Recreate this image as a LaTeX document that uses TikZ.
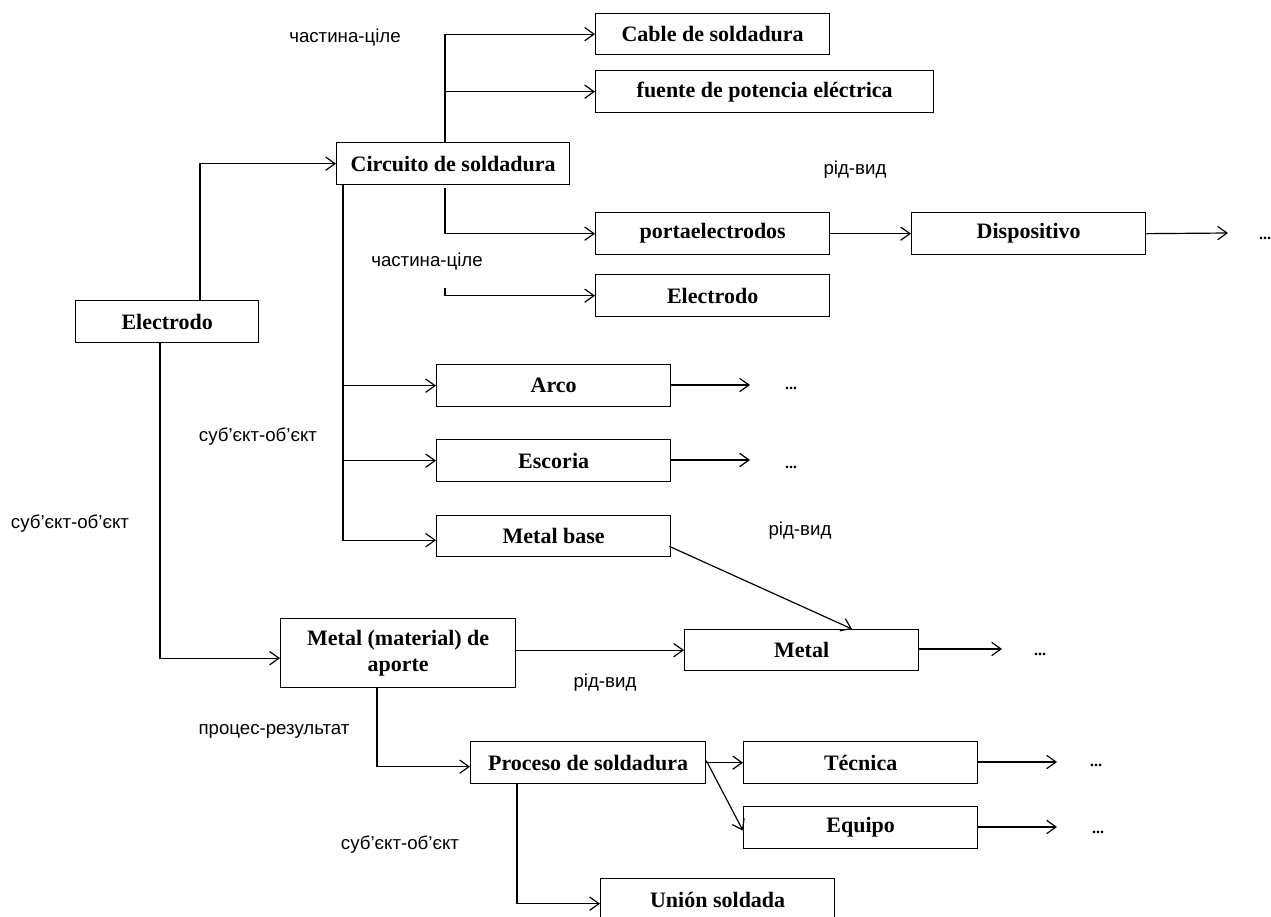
\documentclass[tikz,border=0pt]{standalone}
\usepackage{fontspec}
\setmainfont{Liberation Serif}
\newfontfamily\lblfont{Liberation Sans}
\usetikzlibrary{arrows.meta,calc}
\begin{document}
\begin{tikzpicture}[x=0.75pt,y=-0.75pt,
  box/.style 2 args={draw,line width=1pt,anchor=north west,inner sep=0pt,
    minimum width=#1*0.75pt,minimum height=#2*0.75pt,align=center,
    font=\fontsize{16.5}{20}\selectfont\bfseries},
  arr/.style={draw,line width=0.9pt,-{Straight Barb[length=7pt,width=10pt,line width=0.9pt]}},
  lbl/.style={font=\lblfont\fontsize{14}{16}\selectfont,inner sep=0pt},
  dots/.style={font=\fontsize{12}{13}\selectfont\bfseries,inner sep=0pt}]
\useasboundingbox (0,0) rectangle (1271,917);
% boxes
\node[box={234}{41}] (cable) at (595,13) {Cable de soldadura};
\node[box={338}{42}] (fuente) at (595,70) {fuente de potencia eléctrica};
\node[box={233}{42}] (circ) at (336,142) {Circuito de soldadura};
\node[box={234}{42}] (porta) at (595,212) {portaelectrodos};
\node[box={234}{42}] (disp) at (911,212) {Dispositivo};
\node[box={234}{42}] (elR) at (595,274) {Electrodo};
\node[box={183}{42}] (elL) at (75,300) {Electrodo};
\node[box={234}{42}] (arco) at (436,364) {Arco};
\node[box={234}{42}] (escoria) at (436,439) {Escoria};
\node[box={234}{41}] (mbase) at (436,515) {Metal base};
\node[box={235}{69}] (aporte) at (280,618) {Metal (material) de\\aporte};
\node[box={234}{41}] (metal) at (684,629) {Metal};
\node[box={235}{42}] (proceso) at (470,741) {Proceso de soldadura};
\node[box={234}{42}] (tecnica) at (743,741) {Técnica};
\node[box={234}{42}] (equipo) at (743,806) {Equipo};
\node[box={234}{42}] (union) at (600,878) {Unión soldada};
% free ends
\coordinate (ct) at ($(circ.north west)+(109,0)$);
\coordinate (cb) at ($(circ.south west)+(109,3)$);
\coordinate (tk) at (445,288);
\coordinate (cl) at ($(circ.south west)+(7,0)$);
\coordinate (d1) at (1228,233);
\coordinate (a1) at (750,385);
\coordinate (e1) at (750,460);
\coordinate (m1) at (1002,649);
\coordinate (t1) at (1057,762);
\coordinate (q1) at (1057,827);
% connectors
\draw[arr] ($(elL.north west)+(125,0)$) |- (circ.west);
\draw[arr] ($(elL.south west)+(85,0)$) |- ($(aporte.west)+(0,5)$);
\draw[arr] (ct) |- (cable.west);
\draw[arr] (ct) |- (fuente.west);
\draw[arr] (cb) |- (porta.west);
\draw[arr] (tk) |- (elR.west);
\draw[arr] (cl) |- (arco.west);
\draw[arr] (cl) |- (escoria.west);
\draw[arr] (cl) |- ($(mbase.west)+(0,4)$);
\draw[arr] (porta) -- (disp);
\draw[arr] (disp.east) -- (d1);
\draw[arr] (arco.east |- a1) -- (a1);
\draw[arr] (escoria.east |- e1) -- (e1);
\draw[arr] ($(mbase.south east)+(-2,-11)$) -- ($(metal.north west)+(168,0)$);
\draw[arr] (aporte.east |- metal.west) -- (metal.west);
\draw[arr] (metal.east |- m1) -- (m1);
\draw[arr] ($(aporte.south west)+(97,0)$) |- ($(proceso.west)+(0,4)$);
\draw[arr] (proceso.east |- tecnica.west) -- (tecnica.west);
\draw[arr] ($(proceso.east)+(0,-2)$) -- ($(equipo.west)+(0,3)$);
\draw[arr] (tecnica.east |- t1) -- (t1);
\draw[arr] (equipo.east |- q1) -- (q1);
\draw[arr] ($(proceso.south west)+(47,0)$) |- ($(union.west)+(0,4)$);
% dots
\node[dots] (dd) at (1265,238) {...};
\node[dots] (ad) at (791,388) {...};
\node[dots] (ed) at (791,467) {...};
\node[dots] (md) at (1040,654) {...};
\node[dots] (td) at (1096,765) {...};
\node[dots] (qd) at (1098,832) {...};
% labels
\node[lbl] (l1) at (345,38) {частина-ціле};
\node[lbl] (l2) at (427,262) {частина-ціле};
\node[lbl] (l3) at (855,170) {рід-вид};
\node[lbl] (l4) at (800,531) {рід-вид};
\node[lbl] (l5) at (605,683) {рід-вид};
\node[lbl] (l6) at (258,437) {суб’єкт-об’єкт};
\node[lbl] (l7) at (70,524) {суб’єкт-об’єкт};
\node[lbl] (l8) at (400,845) {суб’єкт-об’єкт};
\node[lbl] (l9) at (274,731) {процес-результат};
\end{tikzpicture}
\end{document}
